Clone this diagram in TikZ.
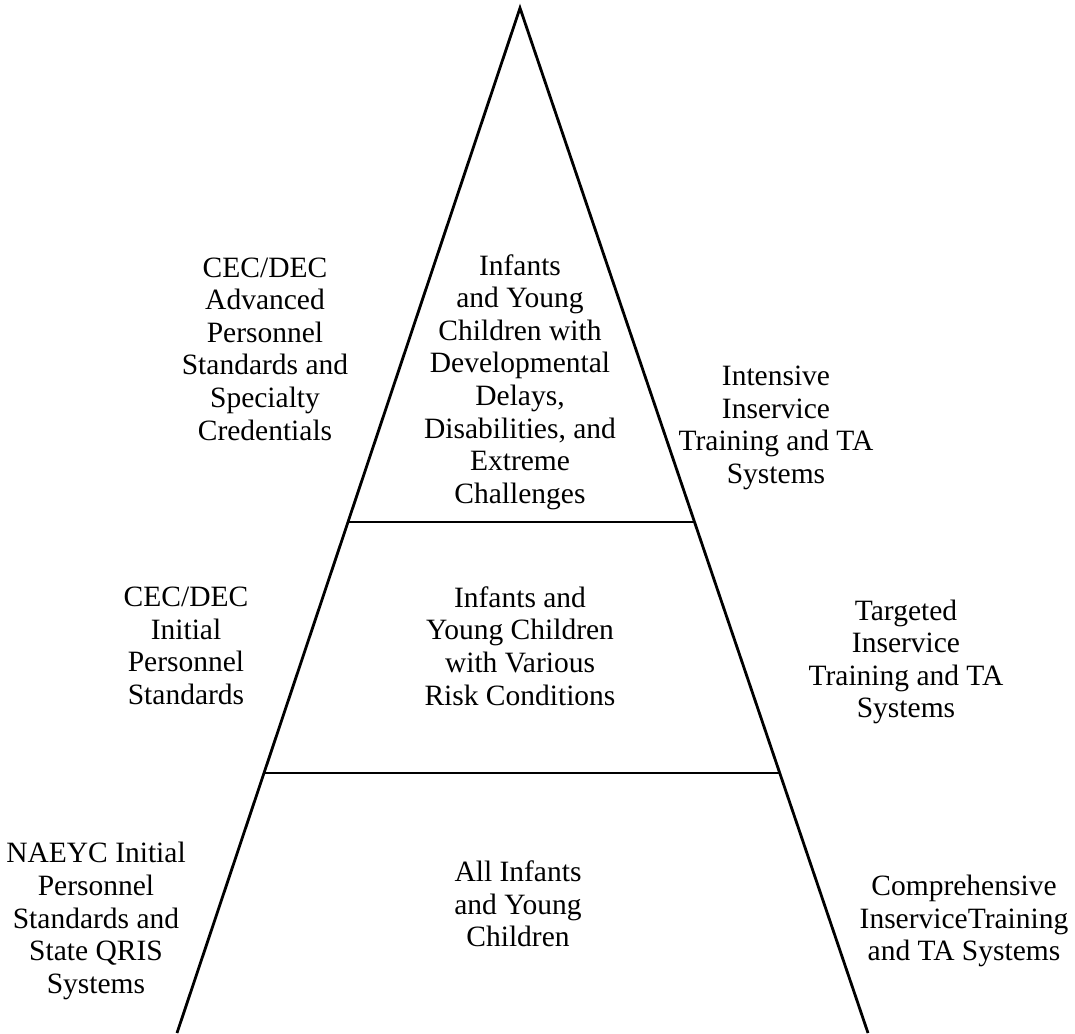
\documentclass[tikz,border=0pt]{standalone}
\usepackage{fontspec}
\setmainfont{Liberation Serif}
\usetikzlibrary{calc}
\tikzset{
  lbl/.style={align=center, inner sep=0pt, font=\fontsize{29.5}{32.6}\selectfont},
  edge/.style={line width=2.8pt, line join=miter}
}
\begin{document}
\begin{tikzpicture}[x=1pt,y=-1pt]
\useasboundingbox (0,0) rectangle (1075,1033);
\coordinate (apex) at (520,8);
\coordinate (bl) at (177,1033);
\coordinate (br) at (868,1033);
\coordinate (l1) at ($(apex)!0.5015!(bl)$);
\coordinate (r1) at ($(apex)!0.5015!(br)$);
\coordinate (l2) at ($(apex)!0.7463!(bl)$);
\coordinate (r2) at ($(apex)!0.7463!(br)$);
\draw[edge] (bl) -- (apex) -- (br);
\draw[edge] (l1) -- (r1);
\draw[edge] (l2) -- (r2);

\node[lbl] (top) at (520,382) {Infants\\and Young\\Children with\\Developmental\\Delays,\\Disabilities, and\\Extreme\\Challenges};
\node[lbl] (topL) at (265,349) {CEC/DEC\\Advanced\\Personnel\\Standards and\\Specialty\\Credentials};
\node[lbl] (topR) at (776,428) {Intensive\\Inservice\\Training and TA\\Systems};

\node[lbl] (mid) at (520,646) {Infants and\\Young Children\\with Various\\Risk Conditions};
\node[lbl] (midL) at (186,646) {CEC/DEC\\Initial\\Personnel\\Standards};
\node[lbl] (midR) at (906,662) {Targeted\\Inservice\\Training and TA\\Systems};

\node[lbl] (bot) at (518,904) {All Infants\\and Young\\Children};
\node[lbl] (botL) at (96,921) {NAEYC Initial\\Personnel\\Standards and\\State QRIS\\Systems};
\node[lbl] (botR) at (964,921) {Comprehensive\\InserviceTraining\\and TA Systems};
\end{tikzpicture}
\end{document}
